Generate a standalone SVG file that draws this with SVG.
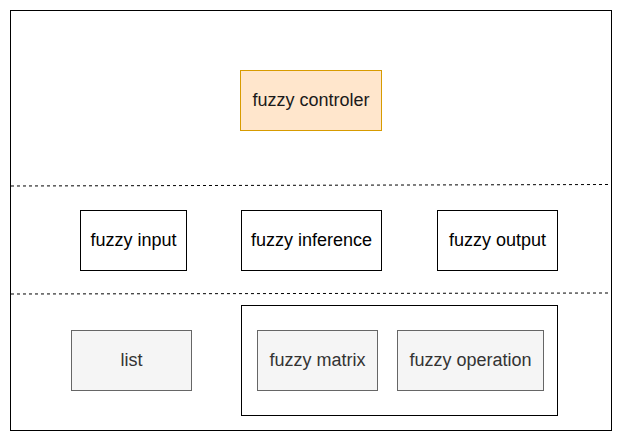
<svg xmlns="http://www.w3.org/2000/svg" width="624" height="442" viewBox="0 0 624 442">
<style>
text{font-family:"Liberation Sans",Arial,sans-serif;font-size:18px;text-anchor:middle;dominant-baseline:central}
.w{fill:#fff;stroke:#000;stroke-width:1}
.g{fill:#f5f5f5;stroke:#666;stroke-width:1}
.gt{fill:#333}
.bt{fill:#000}
.d{stroke:#000;stroke-width:1;stroke-dasharray:3 3;fill:none}
</style>
<rect x="10.5" y="10.5" width="601" height="420" fill="#fff" stroke="#000"/>
<g id="separators">
<path class="d" d="M11 186 L610 184.5"/>
<path class="d" d="M11 294 L610 293"/>
</g>
<g id="controler">
<rect x="240.5" y="70.5" width="141" height="60" fill="#ffe6cc" stroke="#d79b00"/>
<text x="311" y="99.5" fill="#1a1a1a">fuzzy controler</text>
</g>
<g id="input">
<rect class="w" x="80.5" y="210.5" width="106" height="60"/>
<text class="bt" x="133.5" y="239.5">fuzzy input</text>
</g>
<g id="inference">
<rect class="w" x="241.5" y="210.5" width="140" height="60"/>
<text class="bt" x="311.5" y="239.5">fuzzy inference</text>
</g>
<g id="output">
<rect class="w" x="437.5" y="210.5" width="120" height="60"/>
<text class="bt" x="497.5" y="239.5">fuzzy output</text>
</g>
<g id="list">
<rect class="g" x="71.5" y="330.5" width="120" height="60"/>
<text class="gt" x="131.5" y="359.5">list</text>
</g>
<g id="container">
<rect class="w" x="241.5" y="305.5" width="316" height="110"/>
</g>
<g id="matrix">
<rect class="g" x="257.5" y="330.5" width="120" height="60"/>
<text class="gt" x="317.5" y="359.5">fuzzy matrix</text>
</g>
<g id="operation">
<rect class="g" x="397.5" y="330.5" width="146" height="60"/>
<text class="gt" x="470.5" y="359.5">fuzzy operation</text>
</g>
<g id="connectors"/>
</svg>
